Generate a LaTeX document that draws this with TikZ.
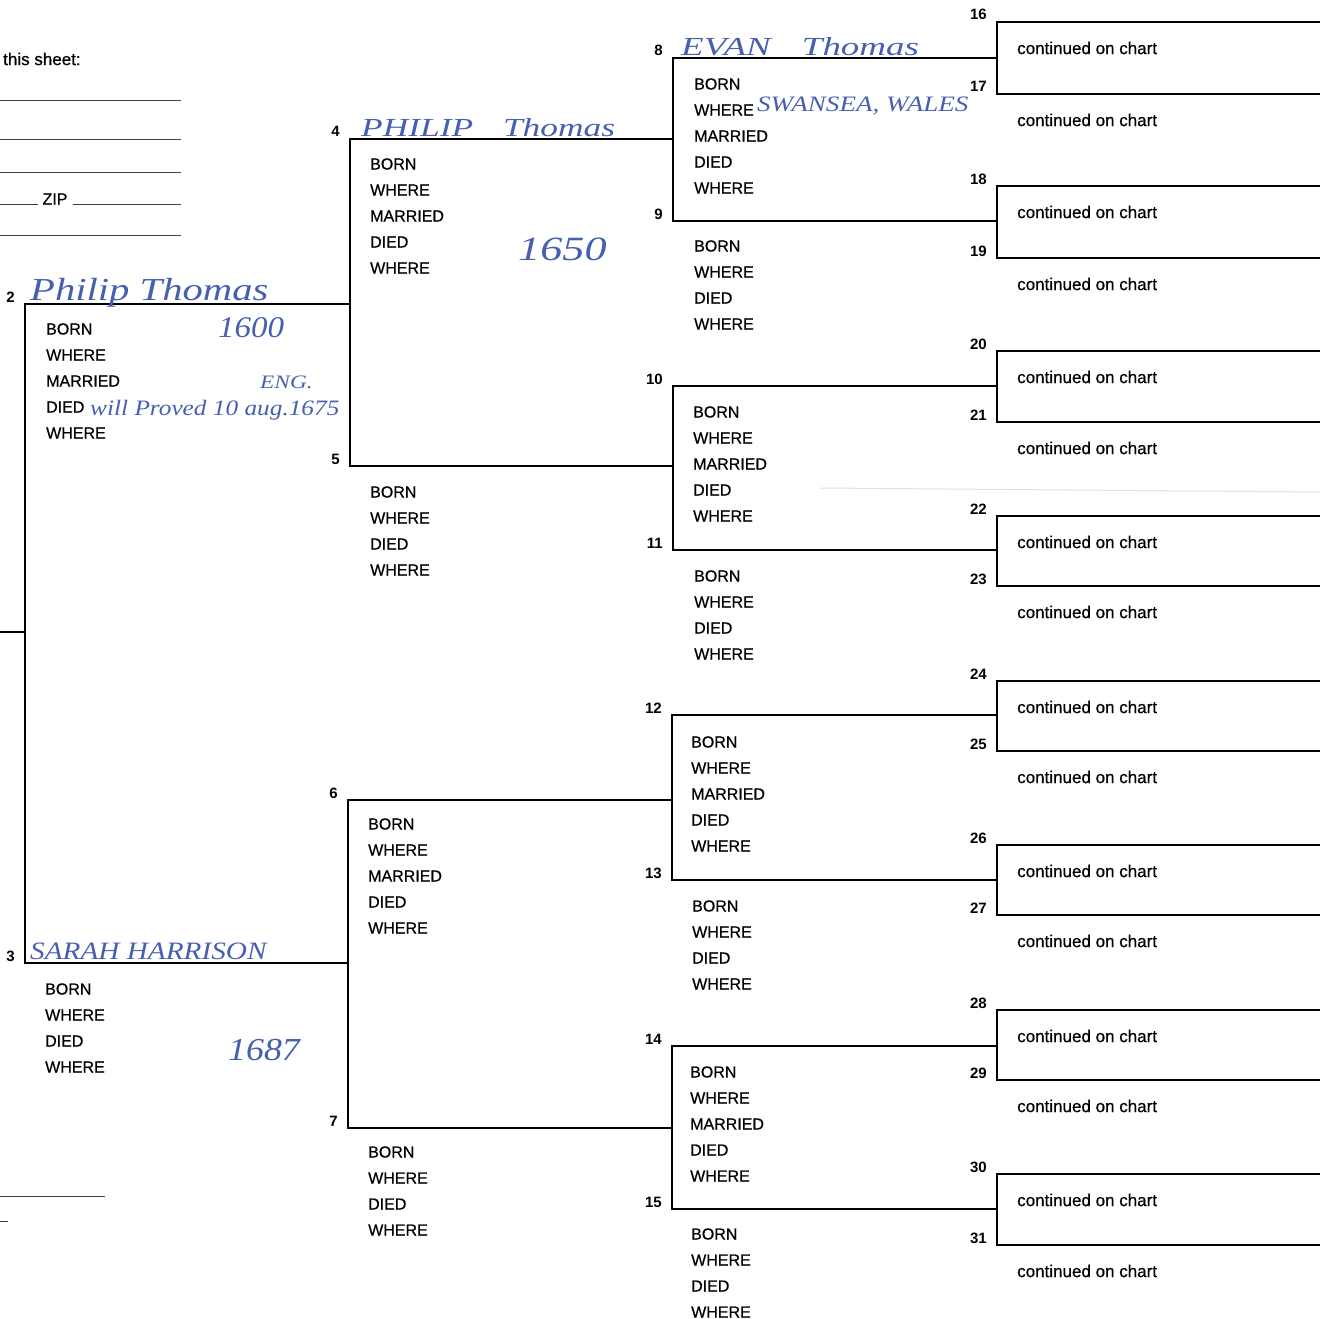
\documentclass[tikz,border=0pt]{standalone}
\usepackage{fontspec}
\usepackage{graphicx}
\setmainfont{Liberation Sans}
\newfontfamily\printfont{Liberation Sans}[FakeBold=0.6]
\newfontfamily\handfont{Liberation Serif}
\usetikzlibrary{positioning}
\definecolor{inkblue}{RGB}{70,95,175}
\newcommand{\wide}[2]{\scalebox{#1}[1]{#2}}

\begin{document}
\begin{tikzpicture}[x=1pt,y=-1pt,
  chart/.style={line width=2.6pt,line cap=rect},
  rule/.style={line width=1pt,black!75},
  field/.style={anchor=west,inner sep=0pt,font=\printfont\fontsize{16}{16}\selectfont},
  num/.style={anchor=base east,inner sep=0pt,font=\bfseries\fontsize{15}{15}\selectfont},
  cont/.style={anchor=west,inner sep=0pt,font=\printfont\fontsize{17}{17}\selectfont},
  hand/.style={anchor=base west,inner sep=0pt,text=inkblue,font=\handfont\itshape\fontsize{#1}{#1}\selectfont}
]
\useasboundingbox (0,0) rectangle (1320,1319);

% generations 2 to 4: number / start / end / height
\foreach \n/\xa/\xb/\y in {2/25/350/304, 3/25/348/963, 4/350/673/139, 5/350/673/466,
    6/348/672/800, 7/348/672/1128, 8/673/997/58, 9/673/997/221, 10/673/997/386,
    11/673/997/550, 12/672/997/715, 13/672/997/880, 14/672/997/1046, 15/672/997/1209}{
  \coordinate (s\n) at (\xa,\y);
  \coordinate (e\n) at (\xb,\y);
  \draw[chart] (s\n) -- (e\n);
  \node[num] (n\n) at ([xshift=-10pt,yshift=2pt]s\n) {\n};
}

% generation 5
\foreach \n/\y in {16/22,17/94,18/186,19/258,20/351,21/422,22/516,23/586,
    24/681,25/751,26/845,27/915,28/1010,29/1080,30/1174,31/1245}{
  \coordinate (s\n) at (997,\y);
  \coordinate (e\n) at (1320,\y);
  \draw[chart] (s\n) -- (e\n);
  \node[num] (n\n) at ([xshift=-10pt,yshift=2pt]s\n) {\n};
  \node[cont] (c\n) at (1017,\y+26) {continued on chart};
}

% brackets joining each couple
\foreach \a [evaluate=\a as \b using int(\a+1)] in {2,4,...,30}
  \draw[chart] (s\a) -- (s\b);

% person 1 comes in from the left
\coordinate (p1) at (0,632);
\draw[chart] (p1) -- (s2 |- p1);

% men
\foreach \n/\x/\y in {2/46/329, 4/370/164, 6/368/824, 8/694/84, 10/693/412, 12/691/742, 14/690/1072}
  \foreach \f [count=\k from 0] in {BORN,WHERE,MARRIED,DIED,WHERE}
    \node[field] (f\n-\k) at (\x,\y+26*\k) {\f};
% women
\foreach \n/\x/\y in {3/45/989, 5/370/492, 7/368/1152, 9/694/246, 11/694/576, 13/692/906, 15/691/1234}
  \foreach \f [count=\k from 0] in {BORN,WHERE,DIED,WHERE}
    \node[field] (f\n-\k) at (\x,\y+26*\k) {\f};

% sheet details, top left
\node[anchor=west,inner sep=0pt,font=\printfont\fontsize{17}{17}\selectfont] (sheet) at (3,59) {this sheet:};
\foreach \y in {101,140,172,235}
  \draw[rule] (0,\y) -- (181,\y);
\node[field,anchor=center] (zip) at (55,199) {ZIP};
\draw[rule] (0,204) -- (38,204);
\draw[rule] (73,204) -- (181,204);
\draw[rule] (0,1196) -- (105,1196);
\draw[rule] (0,1221) -- (8,1221);
\draw[black!12,line width=1pt] (820,488) -- (1320,492);

% handwritten entries
\node[hand=26] (h8) at (681,56) {\wide{1.42}{EVAN\hspace{22pt}Thomas}};
\node[hand=22] (h8w) at (757,112) {\wide{1.23}{SWANSEA, WALES}};
\node[hand=26] (h4) at (361,137) {\wide{1.36}{PHILIP\hspace{22pt}Thomas}};
\node[hand=34] (h4d) at (518,260) {\wide{1.3}{1650}};
\node[hand=32] (h2) at (30,300) {\wide{1.27}{Philip Thomas}};
\node[hand=30] (h2b) at (218,337) {\wide{1.1}{1600}};
\node[hand=19] (h2e) at (260,388) {\wide{1.23}{ENG.}};
\node[hand=22] (h2d) at (90,415) {\wide{1.15}{will Proved 10 aug.1675}};
\node[hand=25] (h3) at (30,959) {\wide{1.17}{SARAH HARRISON}};
\node[hand=32] (h3d) at (228,1060) {\wide{1.12}{1687}};
\end{tikzpicture}
\end{document}
